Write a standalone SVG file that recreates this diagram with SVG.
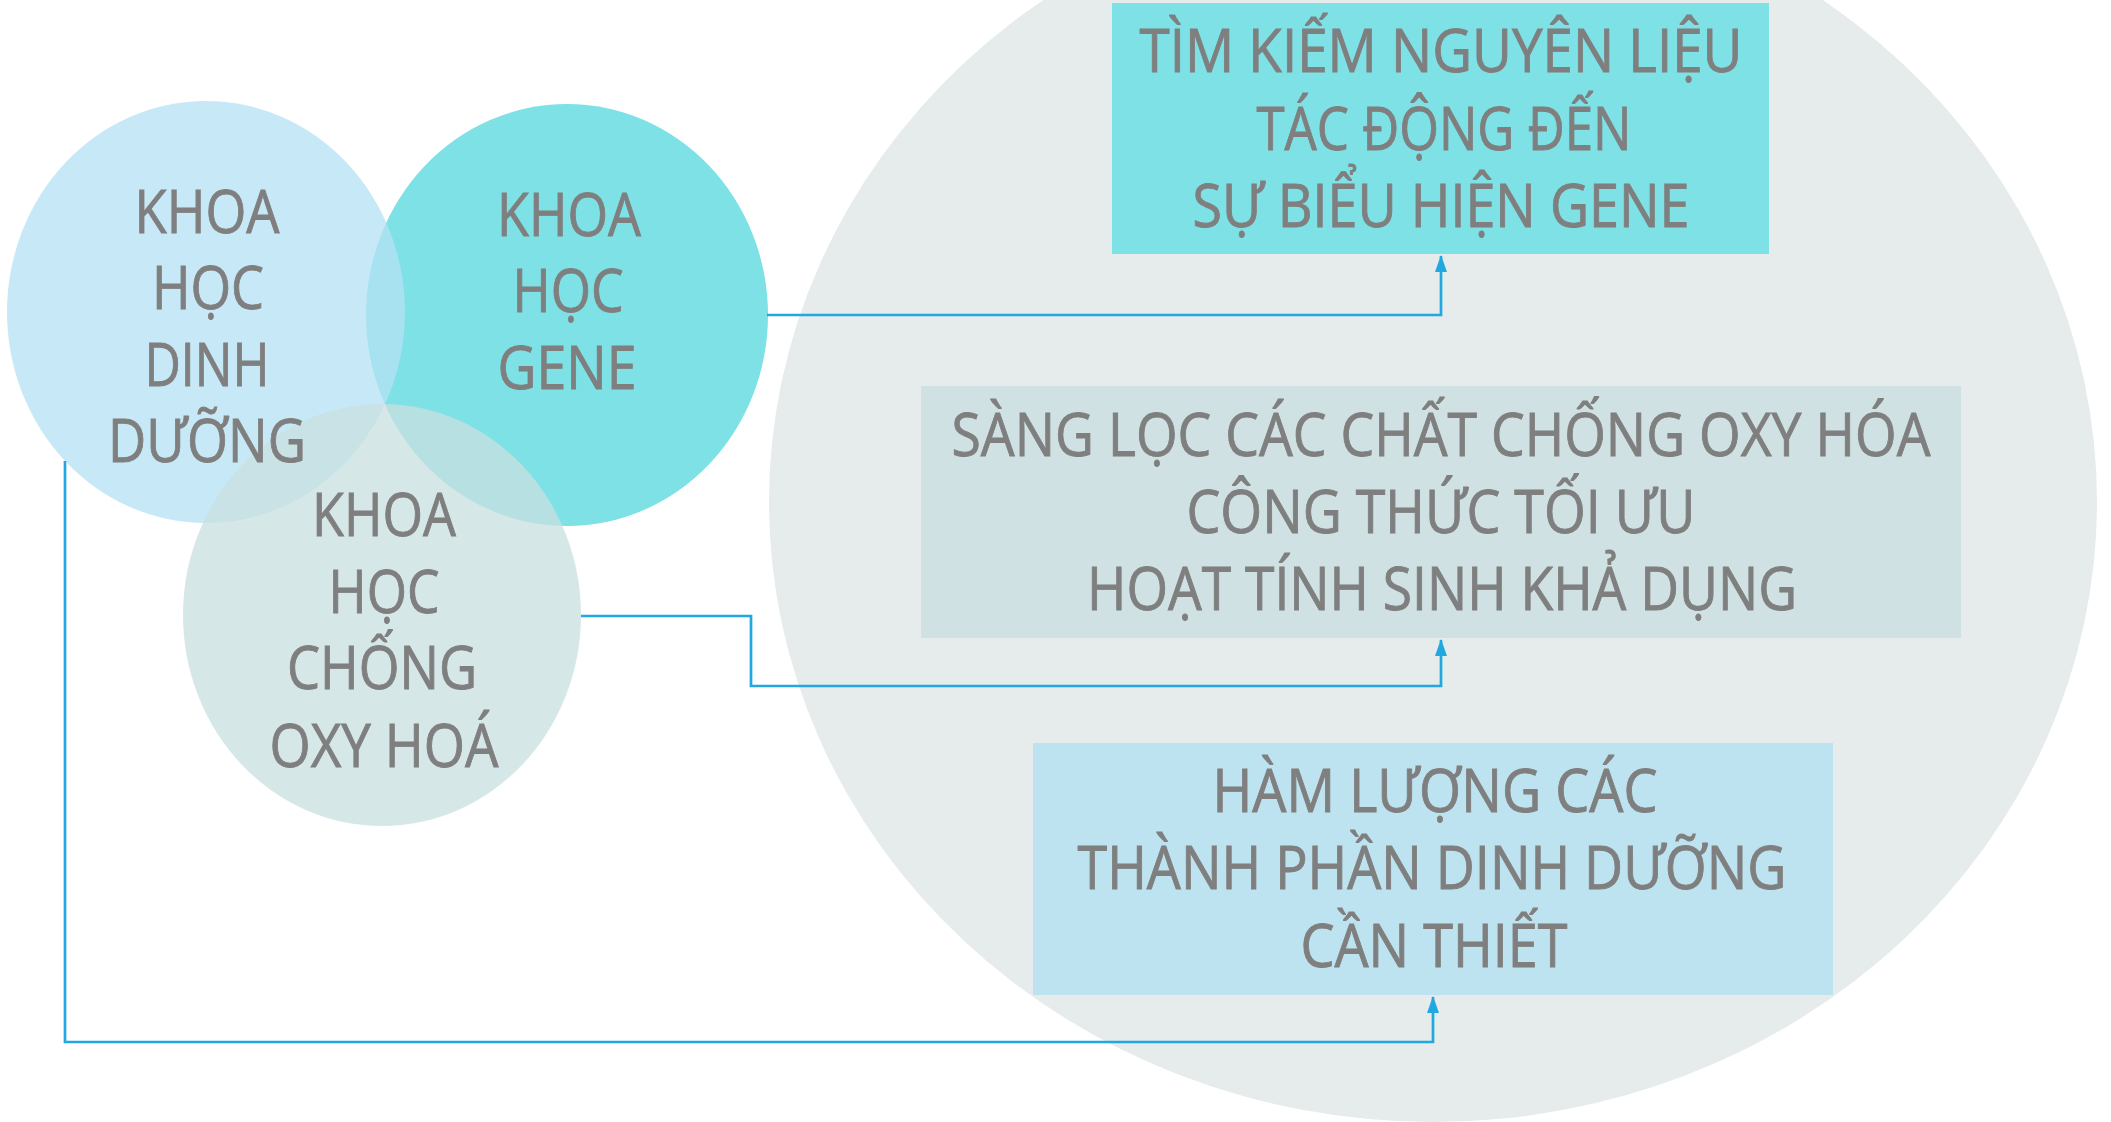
<svg xmlns="http://www.w3.org/2000/svg" width="2111" height="1122" viewBox="0 0 2111 1122">
<defs>
<style>
.t{font-family:"Open Sans","Noto Sans","DejaVu Sans",sans-serif;font-size:60px;fill:#7F7F7F;stroke:#7F7F7F;stroke-width:0.9;text-anchor:middle}
.c{fill:none;stroke:#22A8E0;stroke-width:2.7}
</style>
<marker id="ah" markerUnits="userSpaceOnUse" markerWidth="14" markerHeight="18" viewBox="0 0 14 18" refX="7" refY="1" orient="0">
<path d="M7 0 L13 17 L1 17 Z" fill="#22A8E0"/>
</marker>
</defs>
<rect width="2111" height="1122" fill="#FFFFFF"/>
<g id="background">
<ellipse cx="1433" cy="502" rx="664" ry="620" fill="#E6EBEC"/>
</g>
<g id="box-gene-target">
<rect x="1112" y="3" width="657" height="251" fill="#7DE1E6"/>
<text class="t" x="1441" y="72" textLength="603" lengthAdjust="spacingAndGlyphs">TÌM KIẾM NGUYÊN LIỆU</text>
<text class="t" x="1444" y="150" textLength="375" lengthAdjust="spacingAndGlyphs">TÁC ĐỘNG ĐẾN</text>
<text class="t" x="1441" y="227" textLength="497" lengthAdjust="spacingAndGlyphs">SỰ BIỂU HIỆN GENE</text>
</g>
<g id="box-antioxidant-target">
<rect x="921" y="386" width="1040" height="252" fill="#CFE1E2"/>
<text class="t" x="1441" y="456" textLength="979" lengthAdjust="spacingAndGlyphs">SÀNG LỌC CÁC CHẤT CHỐNG OXY HÓA</text>
<text class="t" x="1441" y="533" textLength="509" lengthAdjust="spacingAndGlyphs">CÔNG THỨC TỐI ƯU</text>
<text class="t" x="1442" y="610" textLength="710" lengthAdjust="spacingAndGlyphs">HOẠT TÍNH SINH KHẢ DỤNG</text>
</g>
<g id="box-nutrition-target">
<rect x="1033" y="743" width="800" height="252" fill="#BDE3F0"/>
<text class="t" x="1435" y="812" textLength="445" lengthAdjust="spacingAndGlyphs">HÀM LƯỢNG CÁC</text>
<text class="t" x="1432" y="889" textLength="709" lengthAdjust="spacingAndGlyphs">THÀNH PHẦN DINH DƯỠNG</text>
<text class="t" x="1434" y="967" textLength="267" lengthAdjust="spacingAndGlyphs">CẦN THIẾT</text>
</g>
<g id="circle-gene">
<ellipse cx="567" cy="315" rx="201" ry="211" fill="#7DE1E6"/>
</g>
<g id="circle-nutrition">
<ellipse cx="206" cy="312" rx="199" ry="211" fill="#B5E2F4" fill-opacity="0.76"/>
</g>
<g id="circle-antioxidant">
<ellipse cx="382" cy="615" rx="199" ry="211" fill="#C9DFE1" fill-opacity="0.76"/>
</g>
<g id="circle-labels">
<text class="t" x="207" y="233" textLength="145" lengthAdjust="spacingAndGlyphs">KHOA</text>
<text class="t" x="208" y="309" textLength="112" lengthAdjust="spacingAndGlyphs">HỌC</text>
<text class="t" x="207" y="386" textLength="125" lengthAdjust="spacingAndGlyphs">DINH</text>
<text class="t" x="207" y="462" textLength="198" lengthAdjust="spacingAndGlyphs">DƯỠNG</text>
<text class="t" x="569" y="236" textLength="144" lengthAdjust="spacingAndGlyphs">KHOA</text>
<text class="t" x="568" y="312" textLength="111" lengthAdjust="spacingAndGlyphs">HỌC</text>
<text class="t" x="567" y="389" textLength="139" lengthAdjust="spacingAndGlyphs">GENE</text>
<text class="t" x="384" y="536" textLength="144" lengthAdjust="spacingAndGlyphs">KHOA</text>
<text class="t" x="384" y="613" textLength="111" lengthAdjust="spacingAndGlyphs">HỌC</text>
<text class="t" x="382" y="689" textLength="190" lengthAdjust="spacingAndGlyphs">CHỐNG</text>
<text class="t" x="384" y="767" textLength="229" lengthAdjust="spacingAndGlyphs">OXY HOÁ</text>
</g>
<g id="connectors">
<polyline class="c" points="767,315 1441,315 1441,256" marker-end="url(#ah)"/>
<polyline class="c" points="581,616 751,616 751,686 1441,686 1441,640" marker-end="url(#ah)"/>
<polyline class="c" points="65,461 65,1042 1433,1042 1433,997" marker-end="url(#ah)"/>
</g>
</svg>
